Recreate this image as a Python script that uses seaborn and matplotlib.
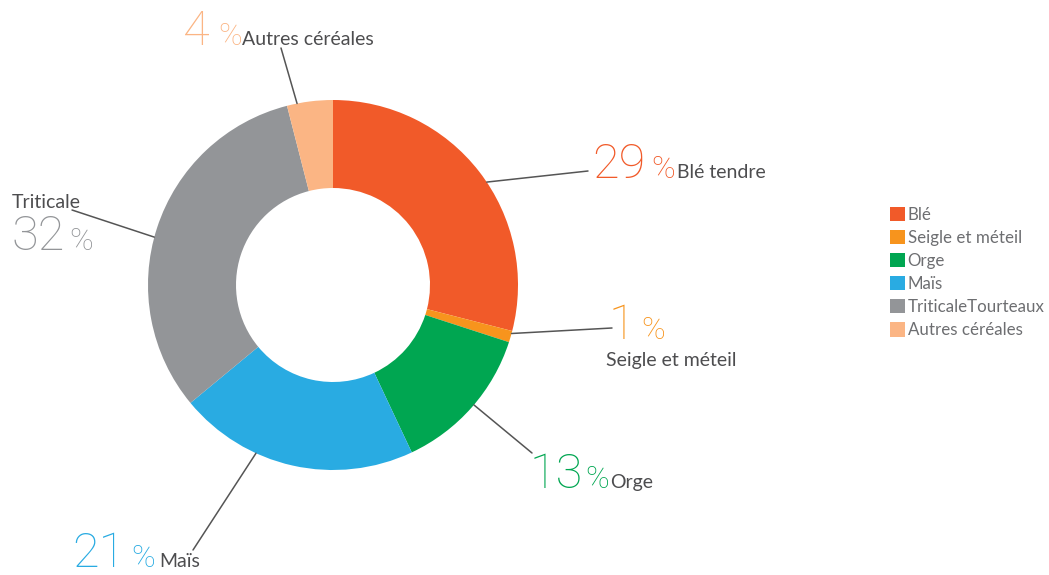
import numpy as np
import matplotlib
matplotlib.use("Agg")
import matplotlib.pyplot as plt
import seaborn as sns

# données
categories = ["Blé", "Seigle et méteil", "Orge", "Maïs", "TriticaleTourteaux", "Autres céréales"]
parts = [29, 1, 13, 21, 32, 4]
couleurs = ["#F15A29", "#F7941D", "#00A651", "#29ABE2", "#939598", "#FBB584"]
libelles = ["Blé tendre", "Seigle et méteil", "Orge", "Maïs", "Triticale", "Autres céréales"]

sns.set_theme(style="white")
plt.rcParams['font.family'] = ['Lato', 'DejaVu Sans']

W, H = 1049, 575
fig = plt.figure(figsize=(W / 100, H / 100), dpi=100)
ax = fig.add_axes([0, 0, 1, 1])

# centre et rayon en pixels (origine en haut à gauche), y converti ensuite
cx, cy, R = 333, 285, 185
wedges, _ = ax.pie(parts, colors=sns.color_palette(couleurs), startangle=90, counterclock=False,
                   center=(cx, H - cy), radius=R, wedgeprops=dict(width=R - 97, linewidth=0),
                   frame=True)
ax.set_xlim(0, W)
ax.set_ylim(0, H)
ax.set_aspect('equal')
ax.axis('off')

# placement des étiquettes (pixels depuis le haut) : fin du trait, nombre, %, libellé
fin_trait = [(588, 171), (612, 328), (532, 453), (193, 550), (72, 210), (281, 48)]
pos_nombre = [(592, 178), (609, 339), (530, 488), (72, 567), (12, 250), (183, 45)]
pos_pct = [(651, 178), (641, 339), (585, 488), (131, 567), (69, 250), (218, 45)]
pos_lib = [(677, 178), (606, 366), (610, 488), (159, 567), (12, 208), (242, 45)]
# décalage angulaire du départ des traits par rapport au milieu de la part
decalage = [-4, 1, 1, -12, 3, 4]

def px(p):
    return p[0], H - p[1]

gris_texte = "#4D4D4F"
police_chiffres = ['Roboto', 'DejaVu Sans']
for i, w in enumerate(wedges):
    a = np.deg2rad((w.theta1 + w.theta2) / 2 + decalage[i])
    x0 = cx + R * np.cos(a)
    y0 = (H - cy) + R * np.sin(a)
    xf, yf = px(fin_trait[i])
    ax.plot([x0, xf], [y0, yf], color="#555555", lw=1.1)
    ax.text(*px(pos_nombre[i]), str(parts[i]), color=couleurs[i], fontsize=35, fontweight='light',
            family=police_chiffres, ha='left', va='baseline')
    ax.text(*px(pos_pct[i]), "%", color=couleurs[i], fontsize=23, fontweight='light',
            family=police_chiffres, ha='left', va='baseline')
    ax.text(*px(pos_lib[i]), libelles[i], color=gris_texte, fontsize=14,
            ha='left', va='baseline')

leg = ax.legend(wedges, categories, loc='upper left', bbox_to_anchor=(883 / W, 1 - 200 / H),
                frameon=False, fontsize=12.2, handlelength=0.9, handleheight=0.9,
                handletextpad=0.15, labelspacing=0.42, borderaxespad=0)
for t in leg.get_texts():
    t.set_color("#6D6E71")

fig.savefig("out.png", dpi=100)
